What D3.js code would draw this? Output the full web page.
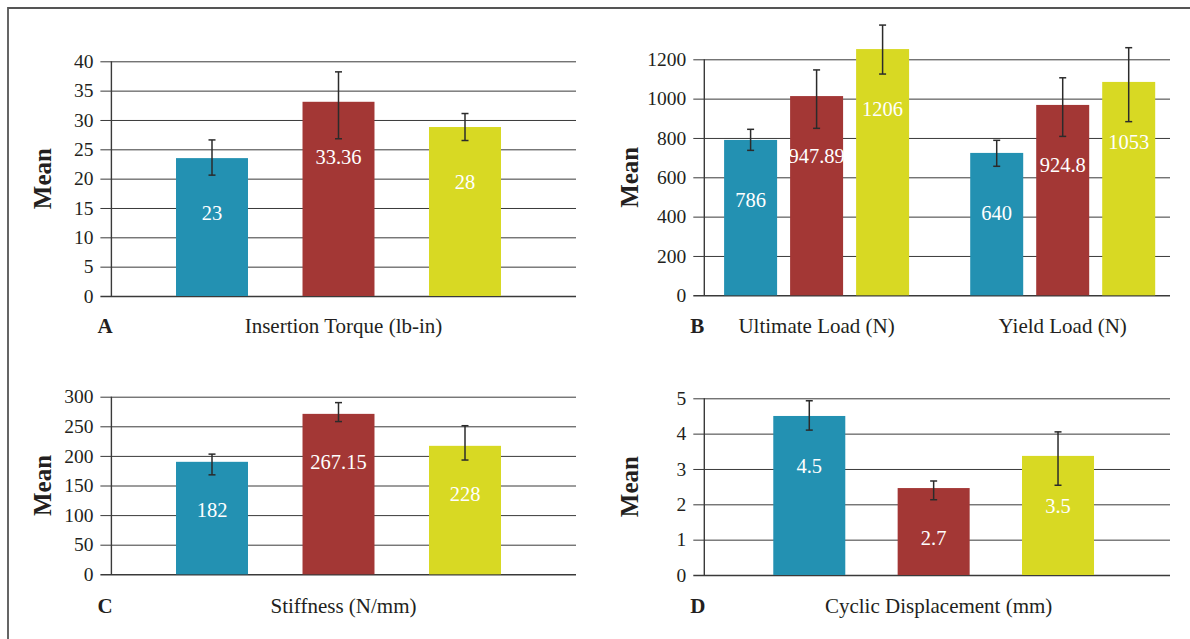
<!DOCTYPE html>
<html>
<head>
<meta charset="utf-8">
<script src="https://cdn.jsdelivr.net/npm/d3@7"></script>
<style>
  html, body { margin: 0; padding: 0; background: #fff; }
  svg { display: block; }
  svg text { font-family: "Liberation Serif", "Times New Roman", serif; }
</style>
</head>
<body>
<div id="chart"></div>
<script>
// series colours (same order in every panel)
const seriesColors = ['#2391b2', '#a33735', '#d8d923'];

// A - insertion torque
const torqueGroups = ['Insertion Torque (lb-in)'];
const torqueMeans = [23.5, 33.1, 28.8];
const torqueErrLow = [20.6, 26.8, 26.5];
const torqueErrHigh = [26.6, 38.2, 31.1];
const torqueLabels = ['23', '33.36', '28'];
const torqueTicks = [0, 5, 10, 15, 20, 25, 30, 35, 40];

// B - ultimate / yield load
const loadGroups = ['Ultimate Load (N)', 'Yield Load (N)'];
const ultimateMeans = [790, 1013, 1252];
const ultimateErrLow = [737, 849, 1125];
const ultimateErrHigh = [844, 1146, 1374];
const ultimateLabels = ['786', '947.89', '1206'];
const yieldMeans = [724, 968, 1085];
const yieldErrLow = [656, 808, 883];
const yieldErrHigh = [788, 1106, 1259];
const yieldLabels = ['640', '924.8', '1053'];
const loadTicks = [0, 200, 400, 600, 800, 1000, 1200];

// C - stiffness
const stiffGroups = ['Stiffness (N/mm)'];
const stiffMeans = [190, 271, 217];
const stiffErrLow = [168, 258, 193];
const stiffErrHigh = [203, 290, 251];
const stiffLabels = ['182', '267.15', '228'];
const stiffTicks = [0, 50, 100, 150, 200, 250, 300];

// D - cyclic displacement
const cyclicGroups = ['Cyclic Displacement (mm)'];
const cyclicMeans = [4.5, 2.46, 3.37];
const cyclicErrLow = [4.1, 2.13, 2.54];
const cyclicErrHigh = [4.93, 2.66, 4.05];
const cyclicLabels = ['4.5', '2.7', '3.5'];
const cyclicTicks = [0, 1, 2, 3, 4, 5];

const width = 1190;
const height = 639;
const textColor = '#231f20';
const gridColor = '#3a3a3a';

const svg = d3.select('#chart')
    .append('svg')
    .attr('width', width)
    .attr('height', height);

// outer frame (only top and left edges fall inside the picture)
svg.append('path')
    .attr('d', `M8,${height} L8,8 L${width},8`)
    .attr('fill', 'none')
    .attr('stroke', '#555')
    .attr('stroke-width', 1.8);

function drawPanel(p) {
    const g = svg.append('g');
    const y = d3.scaleLinear().domain(p.yDomain).range(p.yRange);

    // grid lines + tick labels (grid sticks out 11px left of the axis)
    const axis = d3.axisLeft(y)
        .tickValues(p.ticks)
        .tickSize(p.gridEnd - p.axisX + 11)
        .tickPadding(7)
        .tickFormat(d3.format('d'));
    const ax = g.append('g')
        .attr('transform', `translate(${p.gridEnd},0)`)
        .call(axis);
    ax.attr('font-family', null).attr('font-size', null);
    ax.select('.domain').remove();
    ax.selectAll('.tick line')
        .attr('stroke', gridColor)
        .attr('stroke-width', d => d === 0 ? 1.6 : 1);
    ax.selectAll('.tick text')
        .attr('fill', textColor)
        .style('font-size', '19.5px');

    // vertical axis line
    g.append('line')
        .attr('x1', p.axisX).attr('x2', p.axisX)
        .attr('y1', y(p.yDomain[1])).attr('y2', y(0))
        .attr('stroke', gridColor)
        .attr('stroke-width', 1.4);

    const x0 = d3.scaleBand()
        .domain(p.groups.map(d => d.name))
        .range(p.xRange)
        .paddingInner(p.groupPad || 0);
    const x1 = d3.scaleBand()
        .domain([0, 1, 2])
        .range([0, x0.bandwidth()])
        .paddingInner(p.barPad)
        .paddingOuter(p.barPad / 2);

    p.groups.forEach(grp => {
        const gg = g.append('g')
            .attr('transform', `translate(${x0(grp.name)},0)`);
        const rows = grp.means.map((m, i) => ({
            i: i, mean: m, lo: grp.lo[i], hi: grp.hi[i], label: grp.labels[i]
        }));

        gg.selectAll('rect')
            .data(rows)
            .enter()
            .append('rect')
            .attr('x', d => x1(d.i))
            .attr('y', d => y(d.mean))
            .attr('width', x1.bandwidth())
            .attr('height', d => y(0) - y(d.mean))
            .attr('fill', d => seriesColors[d.i]);

        // value labels
        gg.selectAll('text.val')
            .data(rows)
            .enter()
            .append('text')
            .attr('class', 'val')
            .attr('x', d => x1(d.i) + x1.bandwidth() / 2)
            .attr('y', d => y(d.mean) + p.labelOffset)
            .attr('dy', '0.35em')
            .attr('text-anchor', 'middle')
            .attr('fill', '#fff')
            .style('font-size', '20.5px')
            .text(d => d.label);

        // error bars
        const eb = gg.selectAll('g.err')
            .data(rows)
            .enter()
            .append('g')
            .attr('class', 'err')
            .attr('stroke', '#2b2b2b')
            .attr('stroke-width', 1.5);
        eb.append('line')
            .attr('x1', d => x1(d.i) + x1.bandwidth() / 2)
            .attr('x2', d => x1(d.i) + x1.bandwidth() / 2)
            .attr('y1', d => y(d.hi))
            .attr('y2', d => y(d.lo));
        eb.selectAll('line.cap')
            .data(d => [[d, d.hi], [d, d.lo]])
            .enter()
            .append('line')
            .attr('class', 'cap')
            .attr('x1', d => x1(d[0].i) + x1.bandwidth() / 2 - 3.5)
            .attr('x2', d => x1(d[0].i) + x1.bandwidth() / 2 + 3.5)
            .attr('y1', d => y(d[1]))
            .attr('y2', d => y(d[1]));

        // category label under the group
        g.append('text')
            .attr('x', x0(grp.name) + x0.bandwidth() / 2 + p.catShift)
            .attr('y', p.catY)
            .attr('text-anchor', 'middle')
            .attr('fill', textColor)
            .style('font-size', '21px')
            .text(grp.name);
    });

    // panel letter
    g.append('text')
        .attr('x', p.axisX - 14)
        .attr('y', p.catY)
        .attr('fill', textColor)
        .style('font-size', '21px')
        .style('font-weight', 'bold')
        .text(p.letter);

    // y title
    g.append('text')
        .attr('transform', `translate(${p.meanX},${(p.yRange[0] + p.yRange[1]) / 2}) rotate(-90)`)
        .attr('text-anchor', 'middle')
        .attr('dy', '0.35em')
        .attr('fill', textColor)
        .style('font-size', '25px')
        .style('font-weight', 'bold')
        .text('Mean');
}

drawPanel({
    letter: 'A', axisX: 111.4, gridEnd: 576, meanX: 42, catY: 333, catShift: 5,
    yDomain: [0, 40], yRange: [296, 61.3], ticks: torqueTicks,
    xRange: [148.75, 528.25], barPad: 0.431, labelOffset: 55,
    groups: [{ name: torqueGroups[0], means: torqueMeans, lo: torqueErrLow, hi: torqueErrHigh, labels: torqueLabels }]
});

drawPanel({
    letter: 'B', axisX: 704.3, gridEnd: 1170, meanX: 629, catY: 333, catShift: 0,
    yDomain: [0, 1200], yRange: [295.3, 59.3], ticks: loadTicks,
    xRange: [717.6, 1161.7], groupPad: 0.1955, barPad: 0.197, labelOffset: 60,
    groups: [
        { name: loadGroups[0], means: ultimateMeans, lo: ultimateErrLow, hi: ultimateErrHigh, labels: ultimateLabels },
        { name: loadGroups[1], means: yieldMeans, lo: yieldErrLow, hi: yieldErrHigh, labels: yieldLabels }
    ]
});

drawPanel({
    letter: 'C', axisX: 111.4, gridEnd: 576, meanX: 42, catY: 613, catShift: 5,
    yDomain: [0, 300], yRange: [574.3, 396.7], ticks: stiffTicks,
    xRange: [148.75, 528.25], barPad: 0.431, labelOffset: 48,
    groups: [{ name: stiffGroups[0], means: stiffMeans, lo: stiffErrLow, hi: stiffErrHigh, labels: stiffLabels }]
});

drawPanel({
    letter: 'D', axisX: 704.3, gridEnd: 1170, meanX: 629, catY: 613, catShift: 5,
    yDomain: [0, 5], yRange: [575, 398.3], ticks: cyclicTicks,
    xRange: [747.1, 1120.2], barPad: 0.421, labelOffset: 50,
    groups: [{ name: cyclicGroups[0], means: cyclicMeans, lo: cyclicErrLow, hi: cyclicErrHigh, labels: cyclicLabels }]
});
</script>
</body>
</html>
